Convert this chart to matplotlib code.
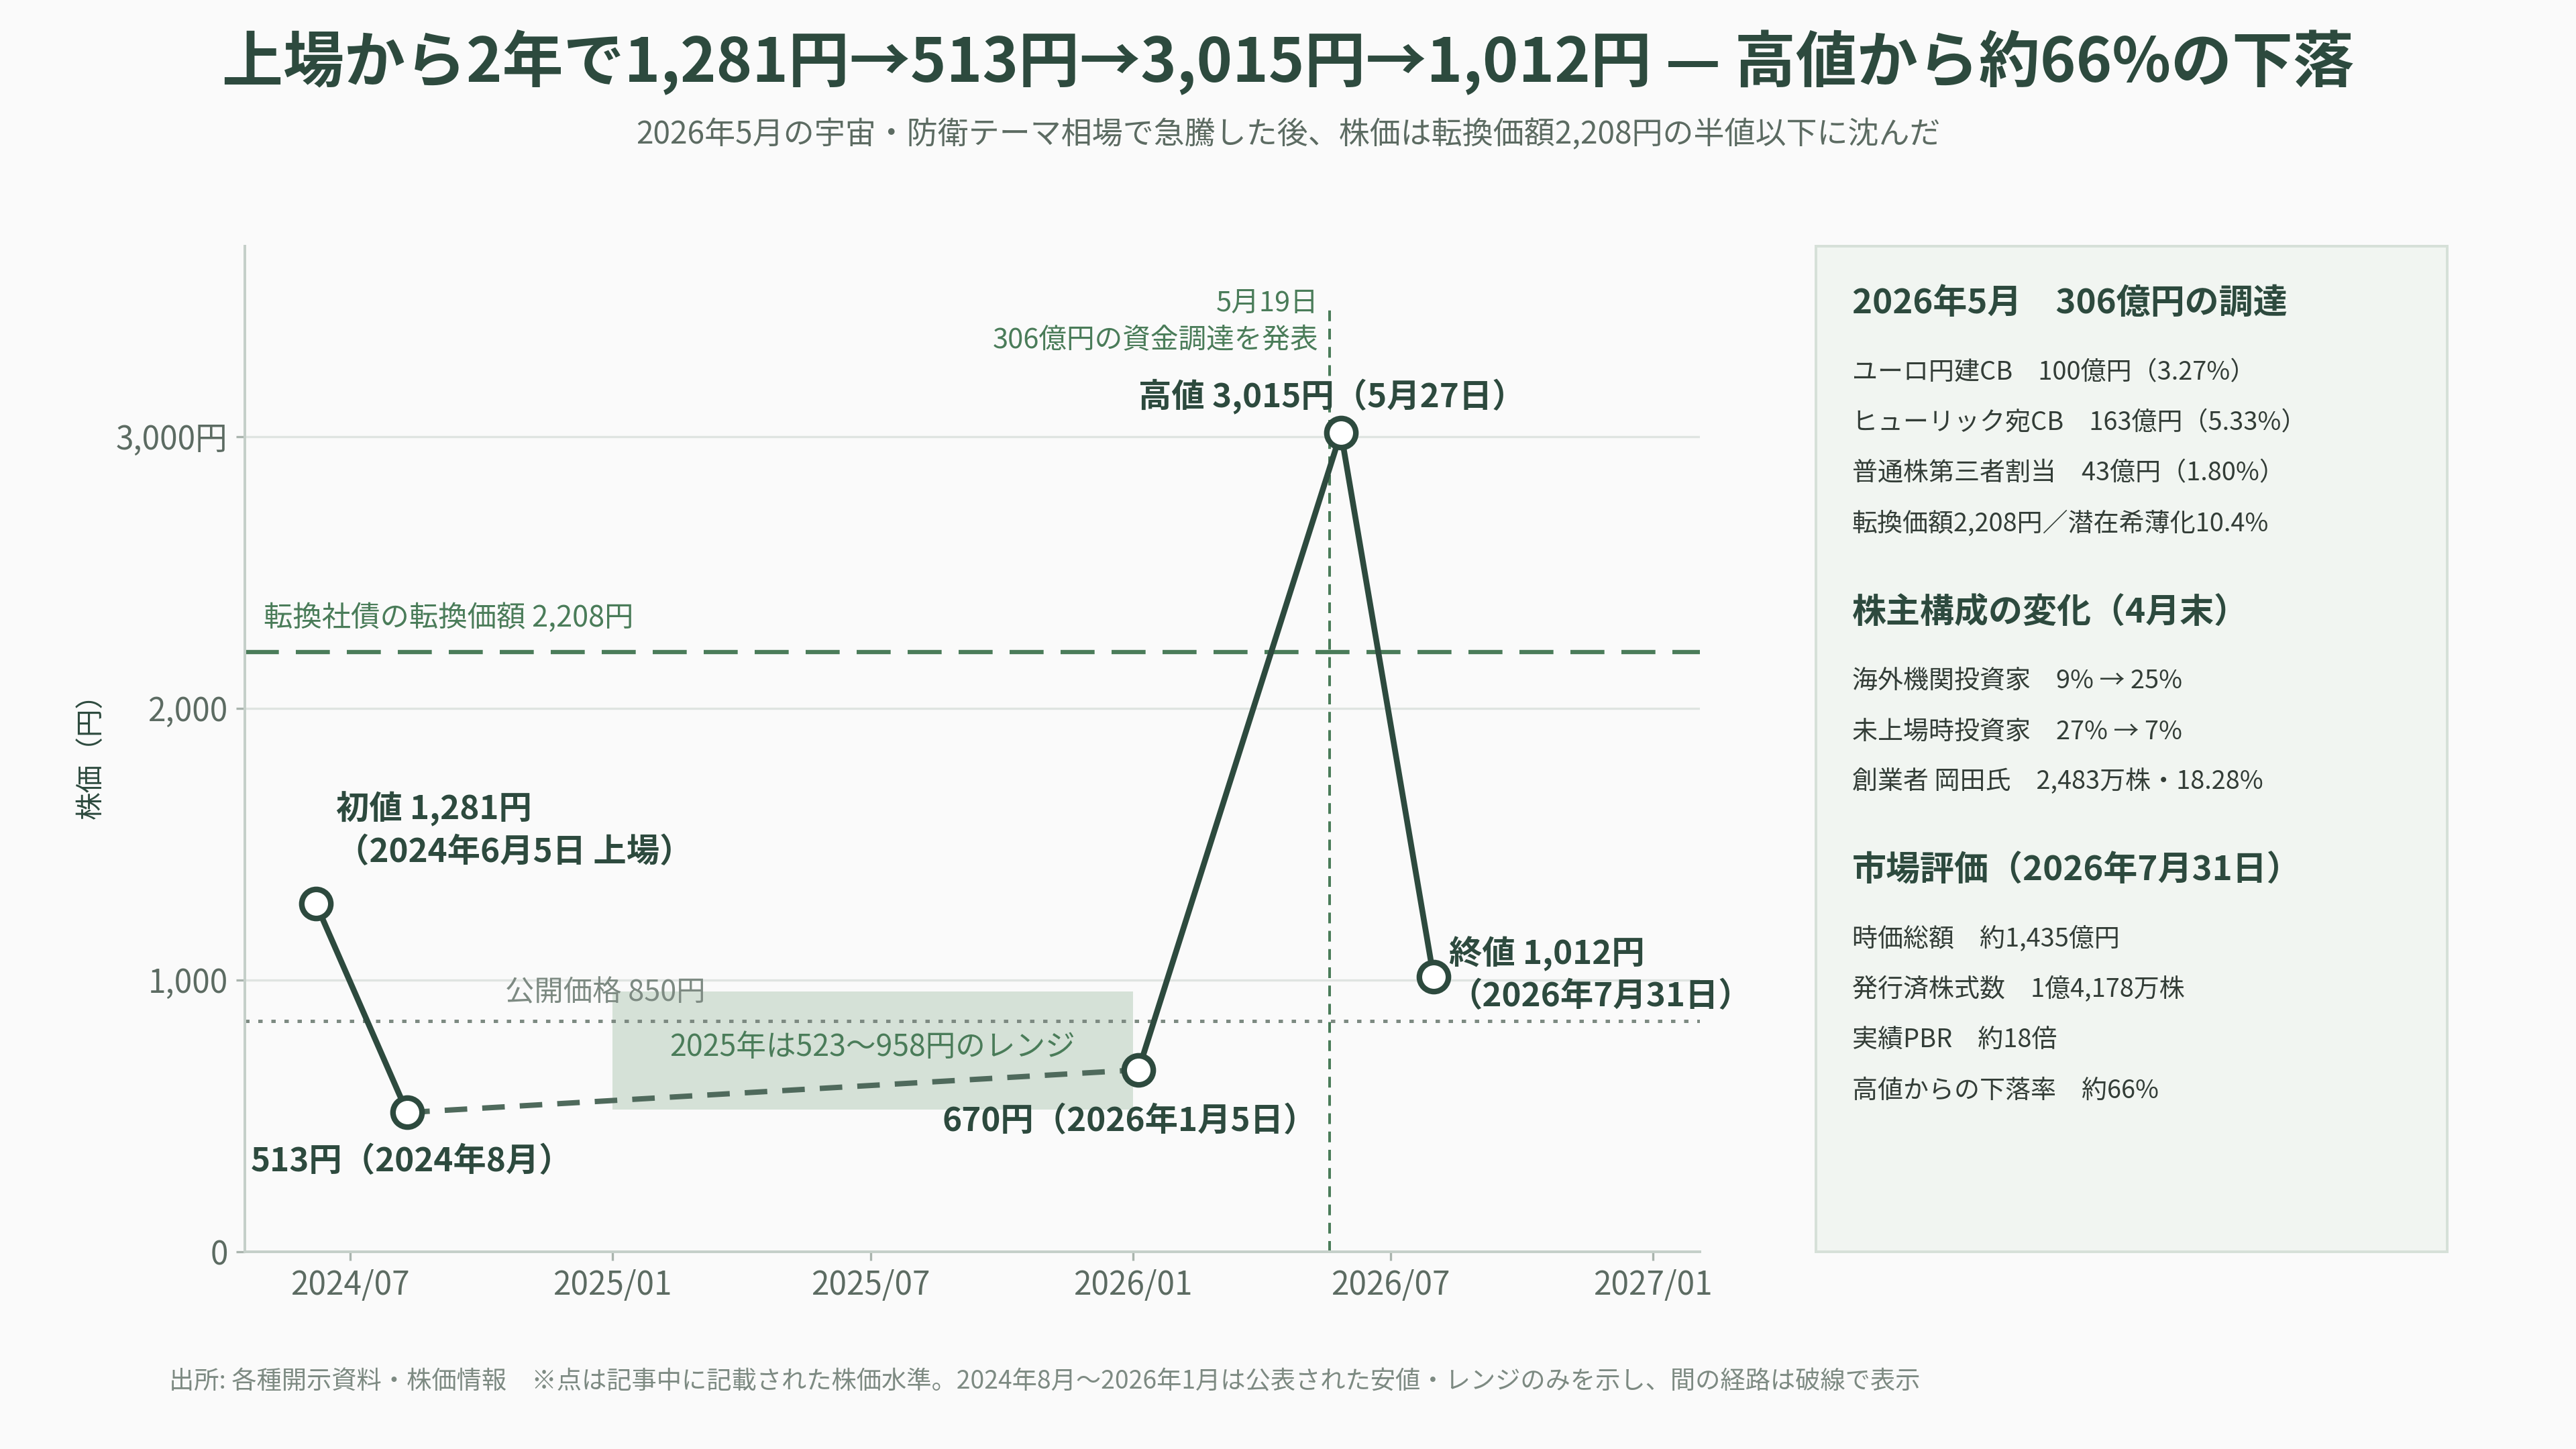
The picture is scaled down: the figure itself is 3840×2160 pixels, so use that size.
import numpy as np
import pandas as pd
import matplotlib
matplotlib.use('Agg')
import matplotlib.pyplot as plt
import matplotlib.dates as mdates
from matplotlib.patches import Rectangle

plt.rcParams['font.family'] = ['Noto Sans CJK JP', 'DejaVu Sans']

# --- data ---
dates = pd.to_datetime(['2024-06-07', '2024-08-10', '2026-01-05', '2026-05-27', '2026-07-31'])
prices = [1281, 513, 670, 3015, 1012]
ipo_price = 850
conv_price = 2208
range_start, range_end = pd.Timestamp('2025-01-01'), pd.Timestamp('2026-01-01')
range_low, range_high = 523, 958
announce_date = pd.Timestamp('2026-05-19')

point_labels = [
    '初値 1,281円\n（2024年6月5日 上場）',
    '513円（2024年8月）',
    '670円（2026年1月5日）',
    '高値 3,015円（5月27日）',
    '終値 1,012円\n（2026年7月31日）',
]

yticks = [0, 1000, 2000, 3000]
ytick_labels = ['0', '1,000', '2,000', '3,000円']

panel_sections = [
    ('2026年5月　306億円の調達',
     ['ユーロ円建CB　100億円（3.27%）',
      'ヒューリック宛CB　163億円（5.33%）',
      '普通株第三者割当　43億円（1.80%）',
      '転換価額2,208円／潜在希薄化10.4%']),
    ('株主構成の変化（4月末）',
     ['海外機関投資家　9% → 25%',
      '未上場時投資家　27% → 7%',
      '創業者 岡田氏　2,483万株・18.28%']),
    ('市場評価（2026年7月31日）',
     ['時価総額　約1,435億円',
      '発行済株式数　1億4,178万株',
      '実績PBR　約18倍',
      '高値からの下落率　約66%']),
]

title = '上場から2年で1,281円→513円→3,015円→1,012円 — 高値から約66%の下落'
subtitle = '2026年5月の宇宙・防衛テーマ相場で急騰した後、株価は転換価額2,208円の半値以下に沈んだ'
footer = ('出所: 各種開示資料・株価情報　※点は記事中に記載された株価水準。'
          '2024年8月〜2026年1月は公表された安値・レンジのみを示し、間の経路は破線で表示')

# --- colours ---
bg = '#fafafa'
dark = '#2d4a3e'
green = '#4a7c59'
gray = '#7d8a82'
tick_col = '#5c6b62'

fig = plt.figure(figsize=(16, 9), dpi=240, facecolor=bg)
ax = fig.add_axes([0.095, 0.136, 0.565, 0.694])
ax.set_facecolor(bg)

ax.set_ylim(0, 3700)
ax.set_xlim(pd.Timestamp('2024-04-18'), pd.Timestamp('2027-02-03'))

# grid
ax.set_yticks(yticks)
ax.set_yticklabels(ytick_labels)
ax.yaxis.grid(True, color='#dfe4e1', linewidth=1.0, zorder=0)
ax.xaxis.set_major_locator(mdates.MonthLocator(bymonth=[1, 7]))
ax.xaxis.set_major_formatter(mdates.DateFormatter('%Y/%m'))
ax.tick_params(axis='both', colors='#a9b4ad', labelcolor=tick_col, labelsize=14.3, length=4, width=1)

for s in ['top', 'right']:
    ax.spines[s].set_visible(False)
for s in ['left', 'bottom']:
    ax.spines[s].set_color('#c5cfc9')
    ax.spines[s].set_linewidth(1.2)

ax.set_ylabel('株価（円）', fontsize=12.5, color=dark, labelpad=5)

# 2025 range band
ax.add_patch(Rectangle((mdates.date2num(range_start), range_low),
                       mdates.date2num(range_end) - mdates.date2num(range_start),
                       range_high - range_low, facecolor='#d5e1d7', edgecolor='none', zorder=1))
ax.text(range_start + (range_end - range_start) / 2, (range_low + range_high) / 2 + 14,
        '2025年は523〜958円のレンジ', ha='center', va='center', fontsize=13.4, color=green, zorder=2)

# reference lines
ax.axhline(conv_price, color=green, linewidth=1.9, dashes=(8, 4), zorder=2)
ax.annotate('転換社債の転換価額 2,208円', xy=(0.013, conv_price), xycoords=('axes fraction', 'data'),
            xytext=(0, 15), textcoords='offset points', ha='left', va='center',
            fontsize=13, color=green)
ax.axhline(ipo_price, color=gray, linewidth=1.5, dashes=(1.3, 2.6), zorder=2)
ax.annotate('公開価格 850円', xy=(0.179, ipo_price), xycoords=('axes fraction', 'data'),
            xytext=(0, 12.5), textcoords='offset points', ha='left', va='center',
            fontsize=13, color=gray)
ax.axvline(announce_date, ymax=0.94, color=green, linewidth=1.2, dashes=(4, 2.8), zorder=2)
ax.annotate('5月19日\n306億円の資金調達を発表', xy=(announce_date, 0.925),
            xycoords=('data', 'axes fraction'), xytext=(-5, 0), textcoords='offset points',
            ha='right', va='center', fontsize=12.5, color=green, linespacing=1.45)

# price path
ax.plot(dates[:2], prices[:2], color=dark, linewidth=2.6, zorder=3, solid_capstyle='round')
ax.plot(dates[1:3], prices[1:3], color='#4f6a5c', linewidth=2.4, dashes=(4.2, 2.8), zorder=3)
ax.plot(dates[2:], prices[2:], color=dark, linewidth=2.6, zorder=3, solid_joinstyle='round')
ax.plot(dates, prices, linestyle='none', marker='o', markersize=13, markerfacecolor='white',
        markeredgecolor=dark, markeredgewidth=2.5, zorder=4)

offsets = [(9, 33), (-70, -22), (-4, -23), (-4, 16), (7, 1)]
aligns = ['left', 'left', 'center', 'center', 'left']
for d, p, lab, off, ha in zip(dates, prices, point_labels, offsets, aligns):
    ax.annotate(lab, xy=(d, p), xytext=off, textcoords='offset points', ha=ha, va='center',
                fontsize=14.8, fontweight='bold', color=dark, linespacing=1.35, zorder=5)

# right panel
px0, px1, py0, py1 = 0.705, 0.950, 0.136, 0.830
fig.patches.append(Rectangle((px0, py0), px1 - px0, py1 - py0, transform=fig.transFigure,
                             facecolor='#f1f5f1', edgecolor='#d6e0d8', linewidth=1.2))
y = 1 - 185 / 882
tx = 0.719
for head, items in panel_sections:
    fig.text(tx, y, head, fontsize=15.3, fontweight='bold', color=dark, va='center', ha='left')
    y -= 42 / 882
    for it in items:
        fig.text(tx, y, it, fontsize=11.4, color='#333d37', va='center', ha='left')
        y -= 30.7 / 882
    y -= 23 / 882

fig.text(0.5, 1 - 38 / 882, title, ha='center', va='center', fontsize=27.3,
         fontweight='bold', color=dark)
fig.text(0.5, 1 - 82 / 882, subtitle, ha='center', va='center', fontsize=13.8, color=tick_col)
fig.text(103 / 1568, 1 - 841 / 882, footer, ha='left', va='center', fontsize=11.2, color=gray)

fig.savefig('out.png', dpi=240, facecolor=bg)
